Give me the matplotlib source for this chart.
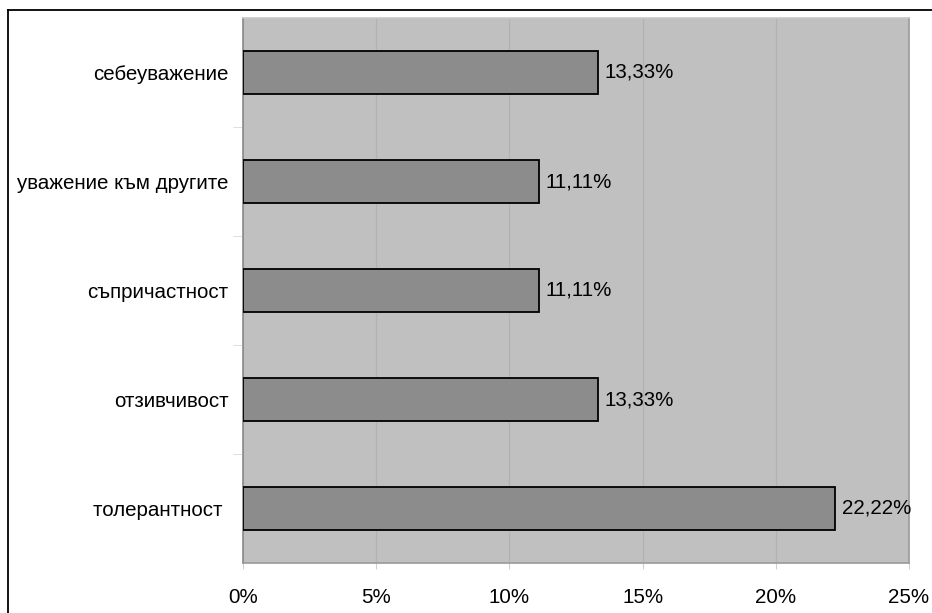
import matplotlib.pyplot as plt
from matplotlib.lines import Line2D

# data, top to bottom as shown in the chart
categories = ["себеуважение", "уважение към другите", "съпричастност", "отзивчивост", "толерантност "]
values = [13.33, 11.11, 11.11, 13.33, 22.22]
xticks = [0, 5, 10, 15, 20, 25]

plt.rcParams['font.family'] = ['Liberation Sans', 'DejaVu Sans']
FS = 14.8

fig = plt.figure(figsize=(9.32, 6.13), dpi=100)
ax = fig.add_axes([243 / 932, 1 - 563 / 613, (909 - 243) / 932, (563 - 18) / 613])

# bottom category first on the y axis
ypos = list(range(len(categories)))[::-1]
ax.barh(ypos, values, height=0.4, color='#8c8c8c', edgecolor='black', linewidth=1.3, zorder=3)

for y, v in zip(ypos, values):
    ax.text(v + 0.25, y, f"{v:.2f}%".replace('.', ','), va='center', ha='left', fontsize=FS, zorder=4)

ax.set_facecolor('#c0c0c0')
ax.set_xlim(0, 25)
ax.set_ylim(-0.5, len(categories) - 0.5)
ax.set_xticks(xticks)
ax.set_xticklabels([f"{t}%" for t in xticks], fontsize=FS)
ax.set_yticks(ypos)
ax.set_yticklabels(categories, fontsize=FS)
ax.set_yticks([i + 0.5 for i in range(len(categories) - 1)], minor=True)
ax.tick_params(axis='y', which='major', length=0, pad=10.5)
ax.tick_params(axis='y', which='minor', length=7, color='#d8d8d8')
ax.tick_params(axis='x', length=4, color='#d0d0d0', pad=14)
ax.xaxis.grid(True, color='#b2b2b2', linewidth=0.9, zorder=0)
ax.set_axisbelow(True)
for side in ['left', 'bottom', 'right', 'top']:
    ax.spines[side].set_color('#9a9a9a')
    ax.spines[side].set_linewidth(1.2)
ax.spines['top'].set_color('#c8c8c8')
ax.spines['left'].set_color('#8a8a8a')

# outer frame (only top and left edges visible in the crop)
fig.add_artist(Line2D([8 / 932, 1], [1 - 10 / 613] * 2, color='black', linewidth=1.3, transform=fig.transFigure))
fig.add_artist(Line2D([8 / 932] * 2, [0, 1 - 10 / 613], color='black', linewidth=1.3, transform=fig.transFigure))

fig.savefig('out.png', dpi=100)
